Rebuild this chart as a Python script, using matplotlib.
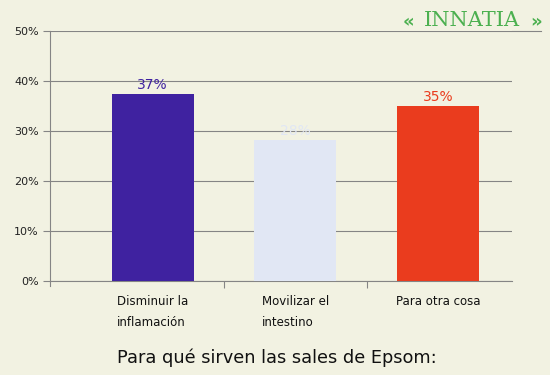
import matplotlib.pyplot as plt
from matplotlib.lines import Line2D

# Datos
categorias = ["Disminuir la\ninflamación", "Movilizar el\nintestino", "Para otra cosa"]
valores = [37.4, 28.2, 35.0]
etiquetas = ["37%", "28%", "35%"]
colores = ["#3f22a0", "#e1e7f4", "#ea3c1e"]
yticks = [0, 10, 20, 30, 40, 50]

fondo = "#f2f2e2"
gris = "#858585"
verde = "#4cb050"
fig = plt.figure(figsize=(5.5, 3.75), dpi=100, facecolor=fondo)
ax = fig.add_axes([50 / 550, 1 - 281 / 375, 462 / 550, 250 / 375])
ax.set_facecolor(fondo)

x = range(len(categorias))
ax.bar(x, valores, width=0.575, color=colores, zorder=3)

for i, v in enumerate(valores):
    ax.text(i, v + 0.4, etiquetas[i], ha="center", va="bottom",
            color=colores[i], fontsize=10, zorder=4)

ax.set_xlim(-0.72, 2.52)
ax.set_ylim(0, 50)
ax.set_yticks(yticks)
ax.set_yticklabels([f"{t}%" for t in yticks], fontsize=8, color="#222222")
ax.grid(axis="y", color=gris, linewidth=0.8, zorder=1)
ax.tick_params(axis="y", length=5, width=0.8, color=gris, pad=3)

ax.set_xticks([0.5, 1.5])
ax.set_xticklabels([])
ax.tick_params(axis="x", length=5, width=0.8, color=gris, direction="out")

for s in ["top", "right"]:
    ax.spines[s].set_visible(False)
for s in ["left", "bottom"]:
    ax.spines[s].set_color(gris)
    ax.spines[s].set_linewidth(0.8)
ax.spines["left"].set_bounds(-1.0, 50)

for i, c in enumerate(categorias):
    ax.text(i, -2.8, c, ha="center", va="top", multialignment="left",
            fontsize=8.5, linespacing=1.85, color="#111111")

fig.text(0.503, 1 - 358 / 375, "Para qué sirven las sales de Epsom:",
         ha="center", va="center", fontsize=12.8, color="#111111")

# logo
fig.add_artist(Line2D([512 / 550, 541 / 550], [1 - 31 / 375, 1 - 31 / 375],
                      color=gris, linewidth=0.8))
fig.text(0.858, 1 - 21 / 375, "INNATIA", ha="center", va="center",
         fontsize=15, color=verde, family="DejaVu Serif")
fig.text(0.742, 1 - 22 / 375, "\u00ab", ha="center", va="center",
         fontsize=13, color=verde, fontweight="bold")
fig.text(0.974, 1 - 22 / 375, "\u00bb", ha="center", va="center",
         fontsize=13, color=verde, fontweight="bold")

fig.savefig("out.png", dpi=100, facecolor=fondo)
